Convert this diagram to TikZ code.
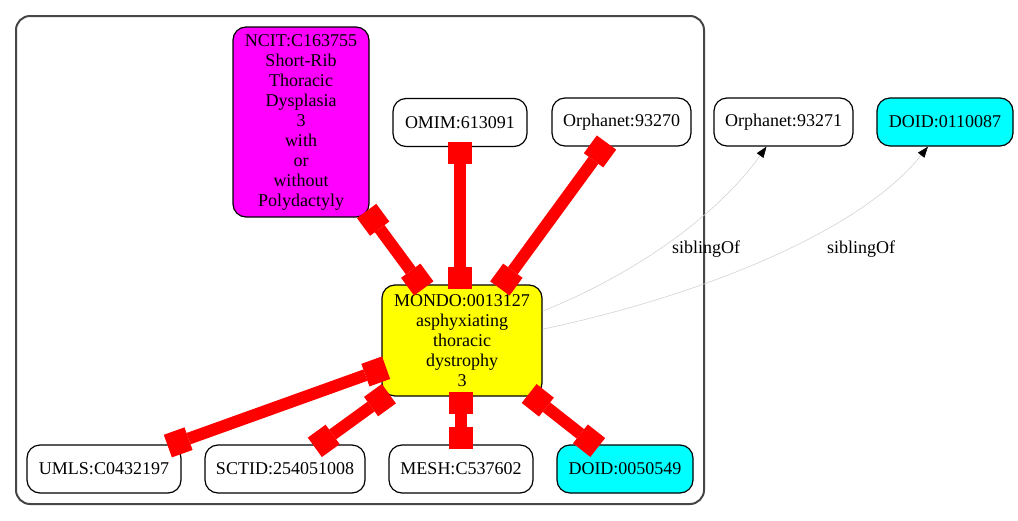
\documentclass[tikz,border=0pt]{standalone}
\usepackage{fontspec}
\setmainfont{Liberation Serif}
\usetikzlibrary{arrows.meta}
\definecolor{gvmagenta}{RGB}{255,0,255}
\definecolor{gvcyan}{RGB}{0,255,255}
\definecolor{gvyellow}{RGB}{255,255,0}
\definecolor{gvred}{RGB}{255,0,0}
\definecolor{gvgray}{RGB}{211,211,211}
\definecolor{clgray}{RGB}{70,70,70}
\begin{document}
\begin{tikzpicture}[x=1pt,y=-1pt,
  ent/.style={draw=black,line width=1.2pt,rectangle,rounded corners=13pt,inner sep=0pt,
    align=center,font=\fontsize{18}{20}\selectfont,minimum height=48pt},
  xref/.style={draw=gvred,line width=12pt,
    {Square[length=22pt,width=24pt,line width=0pt]}-{Square[length=22pt,width=24pt,line width=0pt]},
    shorten <=-5pt,shorten >=-5pt},
  sib/.style={draw=gvgray,line width=0.6pt,-{Triangle[length=11pt,width=8pt,color=black]}},
  lab/.style={font=\fontsize{18}{20}\selectfont,inner sep=0pt}]
\useasboundingbox (0,0) rectangle (1018,520);
\draw[draw=clgray,line width=2pt,rounded corners=14pt] (16,16) rectangle (704,504);
\node[ent,fill=gvmagenta,minimum width=136pt,minimum height=190pt] (ncit) at (301,122)
  {NCIT:C163755\\Short-Rib\\Thoracic\\Dysplasia\\3\\with\\or\\without\\Polydactyly};
\node[ent,minimum width=134pt] (omim) at (460,122.5) {OMIM:613091};
\node[ent,minimum width=139pt] (orph70) at (621.5,122) {Orphanet:93270};
\node[ent,minimum width=139pt] (orph71) at (783.5,122) {Orphanet:93271};
\node[ent,fill=gvcyan,minimum width=136pt] (doid1) at (945,122) {DOID:0110087};
\node[ent,fill=gvyellow,minimum width=160pt,minimum height=111pt] (mondo) at (462,340.5)
  {MONDO:0013127\\asphyxiating\\thoracic\\dystrophy\\3};
\node[ent,minimum width=154pt] (umls) at (104,469) {UMLS:C0432197};
\node[ent,minimum width=160pt] (sctid) at (285,469) {SCTID:254051008};
\node[ent,minimum width=144pt] (mesh) at (461,469) {MESH:C537602};
\node[ent,fill=gvcyan,minimum width=136pt] (doid2) at (625,469) {DOID:0050549};
\draw[xref] (ncit) -- (mondo);
\draw[xref] (omim) -- (omim |- mondo.north);
\draw[xref] (orph70) -- (mondo);
\draw[xref] (mondo) -- (umls);
\draw[xref] (mondo) -- (sctid);
\draw[xref] (mesh |- mondo.south) -- (mesh);
\draw[xref] (mondo) -- (doid2);
\draw[sib] (mondo.20) .. controls (640,272) and (720,212) .. ([xshift=-17pt]orph71.south);
\draw[sib] (mondo.8) .. controls (700,296) and (860,232) .. ([xshift=-17pt]doid1.south);
\node[lab] (l1) at (706,249) {siblingOf};
\node[lab] (l2) at (861,249) {siblingOf};
\end{tikzpicture}
\end{document}
